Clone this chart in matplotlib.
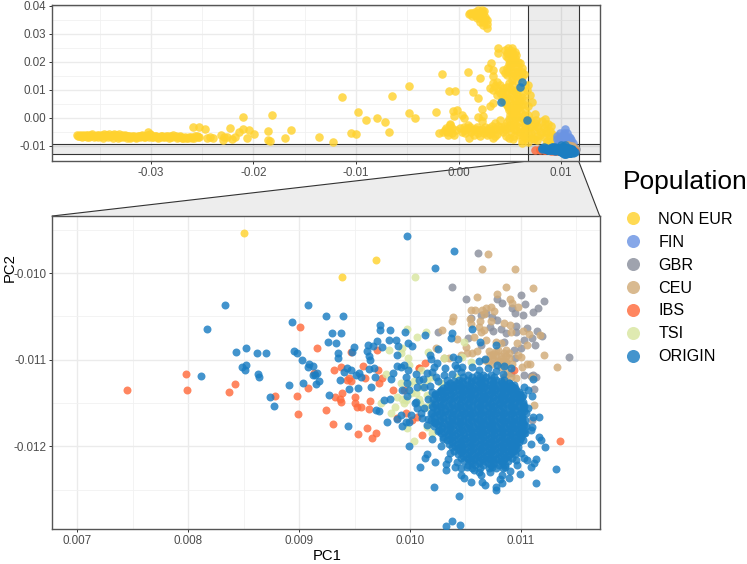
import numpy as np
import matplotlib
matplotlib.use("Agg")
import matplotlib.pyplot as plt
from matplotlib.lines import Line2D
from matplotlib.patches import Polygon

plt.rcParams['font.family'] = ['Liberation Sans', 'DejaVu Sans']

# All scores are given in units of 1e-3 (PC1, PC2)
NON_EUR_BAR = [(-37.2,-6.0),(-37.1,-6.6),(-36.9,-6.2),(-36.7,-6.8),(-36.6,-5.9),(-36.4,-6.4),(-36.2,-6.9),(-36.1,-6.1),(-35.9,-6.5),(-35.7,-5.8),
 (-35.6,-6.9),(-35.4,-6.3),(-35.2,-6.7),(-35.1,-5.9),(-34.9,-6.4),(-34.7,-7.0),(-34.6,-5.7),(-34.4,-6.2),(-34.2,-6.8),(-34.1,-5.6),
 (-33.9,-6.3),(-33.7,-7.1),(-33.6,-5.6),(-33.4,-6.5),(-33.2,-7.1),(-33.1,-5.7),(-32.9,-6.4),(-32.7,-6.9),(-32.5,-6.1),(-32.3,-7.2),
 (-32.1,-6.6),(-31.9,-6.9),(-31.7,-6.5),(-31.5,-7.1),(-31.3,-6.4),(-31.1,-6.9),(-30.9,-6.2),(-30.7,-6.8),(-30.5,-6.4),(-30.3,-5.1),
 (-30.2,-6.9),(-30.0,-6.1),(-29.8,-6.7),(-29.5,-6.4),(-29.3,-7.0),(-29.0,-6.4),(-28.8,-6.8),(-28.5,-6.3),(-28.2,-7.1),(-28.0,-6.5),
 (-27.8,-6.0),(-27.5,-7.1),(-27.2,-6.6),(-27.0,-7.2),(-26.7,-6.7),(-26.4,-7.1),(-26.1,-6.8),(-25.8,-7.0),(-25.5,-6.4),(-25.3,-6.9),
 (-37.0,-6.4),(-36.8,-6.3),(-36.5,-6.6),(-36.3,-6.2),(-36.0,-6.7),(-35.8,-6.2),(-35.5,-6.6),(-35.3,-6.1),(-35.0,-6.6),(-34.8,-6.2),
 (-34.5,-6.5),(-34.3,-6.0),(-34.0,-6.6),(-33.8,-5.9),(-33.5,-6.2),(-33.3,-6.0),(-33.0,-6.7),(-32.8,-6.1),(-32.6,-6.6),(-32.4,-6.5),
 (-32.2,-6.3),(-32.0,-7.0),(-31.8,-6.6),(-31.6,-6.7),(-31.4,-6.9),(-31.2,-6.5),(-31.0,-6.5),(-30.8,-6.6),(-30.6,-6.9),(-30.4,-6.2),
 (-30.1,-5.7),(-29.9,-6.9),(-29.6,-6.3),(-29.4,-6.8),(-29.1,-6.9),(-28.9,-6.5),(-28.6,-6.9),(-28.3,-6.6),(-28.1,-6.9),(-27.9,-6.9),
 (-27.6,-6.6),(-27.4,-6.9),(-27.1,-6.9),(-26.9,-7.0),(-26.6,-7.0),(-26.3,-6.8),(-26.0,-7.1),(-25.7,-6.6),(-25.4,-6.7)]
NON_EUR_SCATTER = [(-25.86,-3.33),(-25.34,-3.22),(-24.72,-4.05),(-22.28,-3.45),(-21.04,0.24),(-18.21,1.07),(-21.04,-4.05),(-21.37,-5.0),
 (-20.39,-4.29),(-19.9,-5.7),(-20.65,-7.02),(-18.54,-4.52),(-18.54,-7.86),(-18.38,-8.2),(-24.55,-7.26),(-23.9,-7.26),(-24.2,-6.9),(-23.16,-6.07),
 (-22.93,-7.86),(-22.12,-7.62),(-21.79,-6.67),(-22.6,-6.67),(-22.9,-6.9),(-16.95,-7.14),(-16.3,-4.17),(-13.6,-6.67),(-12.2,-8.69),(-11.39,7.5),
 (-10.51,-5.24),(-9.99,-5.6),(-9.8,2.02),(-8.98,-0.72),(-7.91,-0.12),(-7.16,-1.43),(-6.74,-4.88),(-6.51,7.73),(-4.85,1.9),(-4.79,11.43),
 (-4.2,0.12),(-1.57,15.71),(-2.18,2.02),(-1.89,-5.24),(-1.53,-5.12),(-1.14,-4.88),(-0.82,-2.5),(-0.97,9.5),(0.97,16.55),(2.08,14.4),
 (-0.33,9.76),(1.46,9.4),(1.94,7.02),(2.27,3.21),(3.08,4.4),(3.41,5.24),(-0.49,2.62),(-0.17,2.86),(-0.43,0.83),(0.32,1.07),(0.55,-0.12),
 (1.94,0.48),(2.37,0.71),(2.27,-0.95),(-0.82,-2.14),(3.9,25.12),(3.9,23.09),(3.15,19.52),(2.92,17.97),(3.34,17.14),(3.34,15.0),
 (8.507,-9.542),(9.695,-9.847),(9.389,-10.05)]
NON_EUR_TOP = [(1.13,37.38),(1.36,37.38),(1.62,37.97),(1.94,38.57),(2.27,38.57),(2.43,37.38),(2.6,36.19),(2.76,35.0),(2.82,33.57),(2.76,32.02),
 (2.43,34.4),(2.11,35.6),(1.78,36.78),(1.36,36.43),(1.78,35.6),(2.11,34.4),(2.37,33.2),(1.94,37.38),(2.27,36.19),(1.62,36.9),(1.95,36.2),(2.55,35.2),
 (1.0,37.0),(1.5,37.0),(2.15,37.9),(2.45,38.2)]
NON_EUR_STREAM = [(4.55,24.3),(4.87,24.88),(5.2,24.88),(5.52,23.69),(4.71,23.09),(5.03,23.09),(5.36,22.5),(4.87,21.3),(5.2,21.3),(5.52,21.3),
 (5.85,20.12),(5.03,20.12),(5.36,19.52),(6.01,19.52),(4.71,17.74),(5.03,18.33),(5.52,18.33),(5.85,18.33),(4.38,17.14),(4.87,16.55),(5.2,16.55),
 (5.52,16.55),(5.85,16.55),(6.17,16.55),(4.71,15.36),(5.2,15.0),(5.85,15.0),(6.17,14.76),(3.08,10.6),(3.41,12.38),(3.73,12.98),(4.06,11.79),
 (3.41,10.0),(3.9,10.0),(4.38,10.6),(4.71,11.19),(5.2,11.79),(6.5,11.79),(6.82,11.79),(6.66,10.0),(3.73,8.2),(4.22,8.2),(4.71,8.2),(5.2,8.81),
 (5.68,8.2),(6.17,7.62),(6.98,8.2),(7.15,5.83),(4.22,6.43),(4.55,5.24),(5.03,5.83),(5.52,6.43),(6.34,6.43),(4.87,4.05),(5.36,3.45),(5.85,3.45),
 (6.5,2.86),(6.82,4.29),(5.2,1.67),(5.68,1.07),(6.34,1.07),(6.82,1.07),(7.47,1.43),(5.52,-0.12),(6.01,-1.31),(6.5,-2.5),(6.99,-0.71),(7.47,-1.9),
 (8.45,-0.36),(8.12,-0.95),(7.8,-3.69),(8.29,-3.69),(8.94,-4.52),(8.61,-5.48),(8.94,-6.9),(8.29,-6.9),(9.43,-8.45),(7.96,-6.07),(7.64,-7.86),
 (7.1,-5.2),(7.4,-4.4),(6.9,-3.6),(6.4,-4.2),(5.9,-3.2),(5.4,-1.9),(4.9,-0.4),(5.1,3.0),(4.6,7.2),(4.2,9.3),(3.6,11.4),(5.6,5.0),(6.1,4.6),
 (6.3,9.4),(5.8,10.5),(5.2,13.4),(5.7,13.1),(4.9,12.6),(5.4,9.8),(7.7,-2.8),(8.0,-5.0),(9.0,-8.2),(9.2,-7.4),(8.6,-8.1),(7.4,-7.6),
 (4.6,22.0),(5.2,23.9),(5.6,22.4),(4.9,19.2),(5.5,19.9),(6.2,17.9),(4.5,16.0),(5.5,15.2),(6.4,15.6),(4.0,9.0),(4.6,9.6),(5.1,10.4),(5.6,9.2),(4.3,7.4),
 (4.9,6.9),(5.4,7.4),(5.9,6.9),(4.7,4.8),(5.3,4.6),(5.9,5.2),(6.3,5.0),(4.9,2.9),(5.6,2.4),(6.0,2.4),(6.2,0.0),(5.8,0.2),(5.6,-2.6),(6.4,-0.6),(6.8,-1.6),
 (5.0,1.2),(6.6,-3.6),(7.2,-2.9),(7.6,-0.6),(8.7,-2.0),(9.0,-3.0),(8.4,-2.3),(9.1,-5.6),(8.5,-4.6),(9.4,-6.8),(9.7,-8.0),(7.7,-6.6)]
NON_EUR_BAND = [(-1.0,-5.9),(-0.6,-5.4),(-0.4,-6.2),(-1.2,-3.6),(-0.6,-3.4),(0.15,-3.7),(0.3,-4.9),(0.65,-5.5),(0.9,-3.7),(0.9,-2.4),(1.2,-5.0),(1.5,-6.2),
 (1.6,-3.9),(1.9,-5.2),(2.1,-6.4),(2.3,-4.0),(2.5,-5.4),(2.8,-6.0),(3.0,-3.6),(3.2,-5.0),(3.41,-7.26),(3.57,-1.9),(3.6,-3.9),(3.8,-5.6),(4.06,-0.71),
 (4.1,-3.2),(4.3,-5.0),(4.6,-6.4),(4.71,-1.31),(4.8,-3.6),(5.1,-5.0),(5.2,0.48),(5.3,-2.6),(5.4,-6.6),(5.6,-4.2),(5.9,-6.2),(6.17,-7.86),(6.4,-5.4),
 (6.82,-8.45),(6.17,-9.0),(6.9,-6.6),(7.2,-7.0),(6.6,-7.2),(1.0,-7.0),(2.9,-4.4),(4.9,-7.2),
 (0.5,-3.2),(0.6,-4.2),(1.1,-3.1),(1.3,-4.2),(1.8,-3.2),(2.0,-4.4),(2.6,-3.2),(2.7,-4.7),(3.3,-3.0),(3.4,-4.4),(3.9,-2.7),(4.0,-4.3),(4.5,-2.7),
 (4.5,-4.1),(5.0,-2.6),(5.4,-3.8),(6.0,-5.0),(6.3,-6.6),(-0.2,-4.4),(-1.3,-4.2),(-0.9,-4.6),(3.1,-5.6),(3.6,-6.4),(5.3,-7.4)]

FIN = [(10.43,-4.05),(9.59,-6.43),(9.91,-5.48),(10.24,-5.24),(10.56,-5.48),(10.73,-6.67),(10.95,-7.86),(11.15,-8.81),(9.91,-7.26),(10.4,-6.9),
 (9.75,-8.45),(10.24,-8.45),(10.73,-8.45),(9.6,-7.6),(10.1,-6.3),(10.5,-7.8),(10.85,-7.2),(10.3,-5.9),(9.9,-8.8),(10.55,-8.8)]

GBR = [(10.610,-9.765),(10.376,-10.158),(10.502,-10.30),(11.002,-10.254),(11.035,-10.358),(11.206,-10.323),(11.158,-10.407),(11.107,-10.446),
 (11.017,-10.488),(10.782,-10.304),(10.83,-10.35),(10.92,-10.407),(10.944,-10.465),(10.547,-10.519),(10.788,-10.542),(10.686,-10.465),
 (10.743,-10.511),(10.643,-10.484),(10.722,-10.619),(10.818,-10.642),(10.752,-10.665),(10.953,-10.611),(11.059,-10.638),(10.953,-10.677),
 (10.863,-10.692),(11.029,-10.769),(11.098,-10.754),(11.146,-10.673),(11.191,-10.723),(11.125,-10.827),(10.252,-10.677),(10.526,-10.754),
 (10.637,-10.83),(10.848,-10.792),(11.004,-10.869),(10.938,-10.888),(10.947,-10.984),(11.432,-10.965),(11.029,-11.18),(11.095,-11.188),
 (10.908,-11.157),(11.134,-11.196),(11.109,-11.173),(11.118,-11.342),(11.103,-11.696)]

CEU = [(10.707,-9.773),(10.653,-9.954),(10.944,-9.95),(10.866,-10.158),(11.113,-10.169),(10.604,-10.273),(10.785,-10.242),(10.902,-10.296),
 (10.923,-10.35),(10.974,-10.388),(10.553,-10.427),(10.583,-10.427),(10.65,-10.427),(10.683,-10.407),(10.728,-10.388),(10.758,-10.438),
 (10.391,-10.511),(10.382,-10.55),(10.292,-10.657),(10.541,-10.534),(10.547,-10.588),(10.631,-10.55),(10.668,-10.473),(10.622,-10.619),
 (10.668,-10.657),(10.848,-10.573),(10.902,-10.6),(10.914,-10.677),(11.02,-10.665),(11.074,-10.704),(11.17,-10.719),(10.427,-10.765),
 (10.577,-10.734),(10.683,-10.773),(10.773,-10.792),(10.818,-10.811),(10.962,-10.811),(11.059,-10.83),(10.502,-10.85),(10.517,-10.919),
 (10.562,-10.919),(10.713,-10.896),(10.794,-10.888),(10.863,-10.888),(10.893,-10.919),(10.773,-10.946),(10.818,-10.957),(10.863,-10.957),
 (10.743,-10.984),(10.794,-11.011),(10.842,-11.011),(10.893,-10.984),(11.0,-10.965),(10.974,-10.946),(11.206,-10.95),(11.326,-11.08),
 (11.059,-11.053),(11.083,-11.05),(11.014,-11.088),(10.743,-11.05),(10.818,-11.08),(10.863,-11.061),(10.878,-11.138),(11.104,-11.196),
 (10.231,-10.869),(10.352,-10.984),(10.307,-10.984),(10.848,-11.196),(10.914,-11.203),(11.118,-11.523),(10.857,-11.196),(10.953,-11.215),
 (10.72,-10.95),(10.85,-10.92),(10.76,-11.0),(10.81,-11.03),(10.7,-11.02),(10.78,-10.9),(10.83,-10.99),(10.75,-10.93),(10.87,-11.02),(10.92,-11.05),
 (10.68,-11.0),(10.64,-10.68),(10.73,-10.55),(10.6,-10.9),(10.46,-10.95)]

IBS = [(7.451,-11.35),(7.983,-11.162),(7.986,-11.35),(8.368,-11.377),(8.426,-11.285),(8.786,-11.423),(8.979,-11.423),(8.991,-11.631),(9.081,-11.323),
 (9.012,-10.627),(9.165,-10.865),(9.132,-11.15),(9.316,-11.123),(9.244,-11.577),(9.31,-11.742),(9.467,-10.915),(9.704,-10.888),(9.575,-11.069),
 (9.382,-11.088),(9.448,-11.208),(9.464,-11.246),(9.433,-11.234),(9.59,-11.215),(9.71,-11.119),(9.749,-11.215),(9.719,-11.265),(9.388,-11.38),
 (9.322,-11.434),(9.373,-11.457),(9.379,-11.484),(9.5,-11.427),(9.503,-11.496),(9.518,-11.542),(9.554,-11.542),(9.638,-11.473),(9.629,-11.573),
 (9.533,-11.857),(9.611,-11.788),(9.692,-11.842),(9.656,-11.903),(9.846,-11.35),(9.96,-11.619),(9.885,-11.677),(10.02,-11.696),(10.065,-11.657),
 (9.945,-11.35),(10.08,-11.1),(10.105,-11.865),(11.35,-11.938),(11.022,-11.55),(10.938,-11.119),(10.135,-11.042),(10.08,-11.092)]

TSI = [(10.048,-10.05),(9.969,-10.639),(10.062,-10.735),(10.147,-10.685),(9.81,-10.888),(9.93,-10.869),(9.915,-10.927),(9.984,-10.985),(10.165,-10.908),
 (10.306,-10.985),(10.547,-11.031),(10.487,-10.8),(10.472,-10.965),(9.78,-11.165),(9.915,-11.273),(9.885,-11.427),(9.74,-11.504),(9.825,-11.611),
 (9.861,-11.542),(9.945,-11.504),(10.005,-11.388),(10.156,-11.407),(10.186,-11.504),(9.975,-11.792),(10.039,-11.942),(9.99,-11.061),(10.096,-11.119),
 (10.276,-11.273),(10.156,-11.234),(10.427,-11.196),(10.05,-11.388),(10.156,-11.773),(10.2,-11.85),(10.11,-11.31),(9.93,-11.45),(10.09,-11.5),(10.2,-11.2),
 (9.99,-11.28),(10.04,-11.24),(10.08,-11.45),(10.14,-11.55),(9.96,-11.46)]

ORIGIN_FAR = [(4.1,5.8),(6.2,12.8),(6.0,11.2),(6.7,-0.6)]
ORIGIN_WEST = [(8.332,-10.373),(8.170,-10.646),(9.078,-10.362),(8.940,-10.569),(8.429,-10.908),(8.519,-10.862),(8.618,-10.927),(8.702,-10.923),
 (8.958,-10.9),(8.979,-10.927),(9.024,-11.004),(9.09,-11.05),(9.078,-11.08),(9.123,-11.069),(8.489,-11.085),(8.522,-11.062),(8.51,-11.123),
 (8.116,-11.185),(8.633,-11.162),(8.636,-11.196),(8.91,-11.296),(9.036,-11.265),(9.123,-11.173),(9.141,-11.18),(9.159,-11.158),(9.153,-11.285),
 (9.177,-11.25),(8.738,-11.435),(8.771,-11.535)]
ORIGIN_SCATTER = [(9.975,-9.574),(10.40,-9.747),(10.225,-9.935),(9.238,-10.496),(9.395,-10.496),(9.732,-10.596),(9.729,-10.662),(9.816,-10.654),
 (9.301,-10.692),(9.374,-10.689),(9.262,-10.8),(9.334,-10.812),(9.617,-10.835),(9.669,-10.846),(9.494,-10.85),(9.473,-10.911),(9.353,-10.927),
 (9.353,-10.985),(9.611,-10.896),(9.626,-10.958),(9.641,-11.004),(9.747,-10.85),(9.7,-10.781),(9.807,-10.773),(9.87,-10.769),(9.954,-10.677),
 (10.135,-10.719),(9.981,-10.808),(10.02,-10.838),(9.888,-10.846),(9.882,-10.95),(10.177,-10.946),(10.192,-10.996),(10.255,-10.873),(10.366,-10.746),
 (10.375,-10.696),(10.562,-10.639),(10.628,-10.792),(10.779,-10.835),(10.39,-10.973),(10.436,-10.988),(10.625,-11.015),(10.673,-10.996),
 (10.785,-11.061),(10.848,-11.069),(10.914,-11.092),(10.406,-11.065),(10.466,-11.085),(10.427,-11.1),(9.268,-11.411),(9.368,-11.234),(9.404,-11.138),
 (9.434,-11.1),(9.47,-11.119),(9.509,-11.177),(9.539,-11.158),(9.56,-11.196),(9.452,-11.342),(9.527,-11.331),(9.647,-11.319),(9.629,-11.111),
 (9.68,-11.196),(9.674,-11.1),(9.831,-11.227),(9.846,-11.158),(9.879,-11.073),(9.915,-11.088),(9.945,-11.061),(9.981,-11.119),(9.963,-11.196),
 (9.969,-11.273),(10.05,-11.169),(10.081,-11.234),(10.15,-11.15),(10.216,-11.081),(10.246,-11.042),(10.231,-11.196),(10.336,-11.234),(10.306,-11.177),
 (10.065,-11.311),(10.126,-11.311),(9.99,-11.35),(9.93,-11.35),(9.975,-11.419),(10.05,-11.484),(10.2,-11.369),(10.225,-11.396),(9.765,-11.465),
 (9.819,-11.454),(9.689,-11.58),(9.723,-11.596),(9.789,-11.715),(9.44,-11.765),(9.882,-11.684),(9.915,-11.638),(9.927,-11.765),(9.96,-11.719),
 (9.993,-11.719),(10.005,-11.638),(10.06,-11.561),(10.041,-11.496),(10.111,-11.677),(10.156,-11.754),(9.99,-11.996),(10.087,-12.238),(10.132,-12.138),
 (10.156,-12.092),(10.228,-12.184),(10.321,-12.272),(10.327,-12.207),(10.357,-12.08),(10.216,-12.469),(10.445,-12.576),(10.321,-12.915),(10.375,-12.861),
 (10.454,-12.911),(10.406,-12.242),(10.457,-12.253),(10.517,-12.234),(10.457,-12.33),(10.487,-12.369),(10.553,-12.415),(10.637,-12.33),(10.652,-12.407),
 (10.673,-12.446),(10.779,-12.473),(10.779,-12.503),(10.833,-12.426),(10.812,-12.38),(10.893,-12.369),(10.989,-12.319),(11.134,-12.423),(11.314,-12.257),
 (11.088,-12.242),(11.118,-12.196),(11.14,-12.146),(11.058,-12.157),(10.968,-12.215),(10.902,-12.28),(10.833,-12.33),(10.742,-12.234),(10.577,-12.273),
 (11.218,-12.011),(11.185,-11.927),(11.164,-11.888),(11.088,-11.973),(11.103,-11.773),(11.088,-11.811),(11.164,-11.658),(11.112,-11.658),(11.064,-11.561),
 (11.103,-11.415),(11.064,-11.35),(11.028,-11.311),(11.106,-11.227),(10.983,-11.427),(10.938,-11.292),(10.893,-11.273),(11.013,-11.696),(11.028,-11.85),
 (10.998,-12.08),(11.028,-12.138),(10.16,-11.45),(10.13,-11.56),(10.19,-11.62),(10.22,-11.72),(10.25,-11.82),(10.3,-11.92),(10.28,-11.36),
 (10.18,-11.3),(10.25,-11.25),(10.12,-11.22),(10.2,-11.14),(10.32,-11.1),(10.38,-11.16),(10.46,-11.14),(10.56,-11.08),(10.62,-11.12),(10.7,-11.1),
 (10.78,-11.13),(10.84,-11.16),(10.1,-11.62),(10.16,-11.68),(10.2,-11.92),(10.28,-12.0),(10.34,-12.14),(10.42,-12.18),(10.62,-12.3),(10.72,-12.3),
 (10.86,-12.24),(10.96,-12.16)]

CORE_PC2 = [-11.18,-11.23,-11.27,-11.31,-11.35,-11.39,-11.43,-11.47,-11.51,-11.55,-11.59,-11.63,-11.67,-11.71,-11.75,-11.79,
 -11.83,-11.87,-11.91,-11.95,-11.99,-12.03,-12.07,-12.11,-12.15,-12.19]
CORE_PC1 = [
 [10.52,10.60,10.66,10.73],
 [10.44,10.51,10.59,10.64,10.72,10.78,10.85],
 [10.36,10.42,10.48,10.55,10.63,10.68,10.75,10.83,10.89],
 [10.33,10.40,10.46,10.53,10.61,10.67,10.74,10.80,10.87,10.93],
 [10.28,10.35,10.43,10.50,10.56,10.62,10.70,10.77,10.84,10.90,10.96],
 [10.30,10.37,10.45,10.52,10.59,10.66,10.72,10.79,10.86,10.93,10.99],
 [10.25,10.32,10.40,10.47,10.54,10.61,10.68,10.75,10.82,10.88,10.95,11.01],
 [10.27,10.35,10.42,10.49,10.57,10.64,10.70,10.78,10.85,10.91,10.98],
 [10.23,10.30,10.38,10.45,10.52,10.60,10.67,10.73,10.80,10.87,10.94,11.02],
 [10.21,10.28,10.36,10.43,10.50,10.56,10.63,10.71,10.77,10.84,10.92,10.99],
 [10.24,10.32,10.39,10.47,10.54,10.61,10.68,10.75,10.82,10.89,10.96,11.03],
 [10.26,10.34,10.41,10.49,10.55,10.63,10.70,10.76,10.84,10.91,10.98],
 [10.23,10.30,10.38,10.45,10.52,10.59,10.66,10.73,10.80,10.87,10.94,11.01],
 [10.27,10.35,10.42,10.48,10.56,10.64,10.71,10.77,10.85,10.92,10.99],
 [10.25,10.33,10.39,10.46,10.53,10.61,10.68,10.74,10.82,10.89,10.96,11.03],
 [10.29,10.36,10.44,10.51,10.58,10.65,10.72,10.79,10.86,10.93,11.00],
 [10.31,10.38,10.45,10.53,10.60,10.66,10.74,10.81,10.88,10.95,11.01],
 [10.34,10.41,10.49,10.56,10.62,10.69,10.76,10.83,10.90,10.97],
 [10.36,10.43,10.50,10.57,10.64,10.71,10.78,10.85,10.92,10.99],
 [10.38,10.46,10.53,10.59,10.67,10.73,10.80,10.87,10.93,10.98],
 [10.41,10.47,10.55,10.62,10.68,10.75,10.82,10.88,10.95],
 [10.43,10.50,10.57,10.64,10.71,10.77,10.84,10.91,10.96],
 [10.46,10.53,10.60,10.66,10.73,10.80,10.86,10.92],
 [10.48,10.55,10.61,10.69,10.75,10.82,10.88],
 [10.52,10.58,10.65,10.71,10.78,10.85],
 [10.56,10.62,10.70,10.76,10.83],
]
CORE2_PC2 = [-11.2,-11.25,-11.29,-11.33,-11.37,-11.41,-11.45,-11.49,-11.53,-11.57,-11.61,-11.65,-11.69,-11.73,-11.77,-11.81,
 -11.85,-11.89,-11.93,-11.97,-12.01,-12.05,-12.09,-12.13,-12.17,-12.21,-12.25]
CORE2_PC1 = [
 [10.48,10.56,10.63,10.69,10.76],
 [10.40,10.47,10.55,10.61,10.68,10.75,10.82],
 [10.33,10.39,10.45,10.52,10.59,10.65,10.72,10.79,10.86,10.91],
 [10.30,10.37,10.43,10.50,10.57,10.64,10.71,10.77,10.84,10.90,10.95],
 [10.26,10.32,10.39,10.47,10.53,10.59,10.66,10.74,10.81,10.87,10.93,10.98],
 [10.23,10.33,10.41,10.48,10.55,10.63,10.69,10.76,10.83,10.90,10.97,11.02],
 [10.21,10.29,10.36,10.44,10.51,10.58,10.65,10.71,10.79,10.85,10.92,10.99],
 [10.23,10.31,10.38,10.46,10.53,10.60,10.67,10.74,10.81,10.88,10.95,11.02],
 [10.20,10.27,10.34,10.42,10.49,10.56,10.63,10.70,10.76,10.83,10.91,10.97,11.03],
 [10.24,10.32,10.40,10.46,10.53,10.60,10.66,10.74,10.80,10.88,10.95,11.02],
 [10.20,10.28,10.36,10.43,10.50,10.57,10.64,10.71,10.78,10.85,10.92,11.0,11.05],
 [10.22,10.30,10.38,10.45,10.52,10.59,10.66,10.73,10.80,10.87,10.94,11.01],
 [10.19,10.27,10.34,10.41,10.48,10.55,10.62,10.69,10.76,10.83,10.90,10.97,11.04],
 [10.23,10.31,10.38,10.45,10.52,10.60,10.67,10.74,10.81,10.88,10.95,11.02],
 [10.22,10.29,10.36,10.43,10.50,10.57,10.64,10.71,10.78,10.85,10.92,10.99,11.05],
 [10.26,10.33,10.40,10.47,10.55,10.62,10.69,10.76,10.83,10.90,10.97,11.03],
 [10.28,10.35,10.42,10.49,10.56,10.63,10.70,10.77,10.84,10.91,10.98,11.04],
 [10.30,10.38,10.45,10.52,10.59,10.66,10.73,10.80,10.87,10.94,11.0],
 [10.33,10.40,10.47,10.54,10.61,10.68,10.75,10.82,10.89,10.96,11.02],
 [10.35,10.42,10.49,10.56,10.63,10.70,10.77,10.84,10.90,10.96],
 [10.38,10.44,10.51,10.58,10.65,10.72,10.79,10.86,10.92,10.97],
 [10.40,10.47,10.54,10.61,10.68,10.74,10.81,10.88,10.94],
 [10.43,10.50,10.56,10.63,10.70,10.77,10.84,10.90,10.95],
 [10.46,10.52,10.59,10.66,10.72,10.79,10.86,10.92],
 [10.49,10.55,10.62,10.68,10.75,10.82,10.88],
 [10.52,10.59,10.66,10.73,10.80,10.86],
 [10.56,10.63,10.71,10.78,10.84],
]

POPULATIONS = ["NON EUR", "FIN", "GBR", "CEU", "IBS", "TSI", "ORIGIN"]
COLORS = ["#FFD22E", "#6B94E3", "#8A8F9C", "#D1AB78", "#FF6B3D", "#D8E6A0", "#1A7DC2"]

TOP_XTICKS = [-0.03, -0.02, -0.01, 0.00, 0.01]
TOP_XLABELS = ["-0.03", "-0.02", "-0.01", "0.00", "0.01"]
TOP_YTICKS = [-0.01, 0.00, 0.01, 0.02, 0.03, 0.04]
TOP_YLABELS = ["-0.01", "0.00", "0.01", "0.02", "0.03", "0.04"]
ZOOM_XTICKS = [0.007, 0.008, 0.009, 0.010, 0.011]
ZOOM_XLABELS = ["0.007", "0.008", "0.009", "0.010", "0.011"]
ZOOM_YTICKS = [-0.010, -0.011, -0.012]
ZOOM_YLABELS = ["-0.010", "-0.011", "-0.012"]


def arr(*groups):
    a = np.array([p for g in groups for p in g], dtype=float) * 1e-3
    return a[:, 0], a[:, 1]


core = [(x, y) for y, xs in zip(CORE_PC2, CORE_PC1) for x in xs]
core2 = [(x, y) for y, xs in zip(CORE2_PC2, CORE2_PC1) for x in xs]
series = [arr(NON_EUR_BAR, NON_EUR_SCATTER, NON_EUR_TOP, NON_EUR_STREAM, NON_EUR_BAND),
          arr(FIN), arr(GBR), arr(CEU), arr(IBS), arr(TSI),
          arr(ORIGIN_FAR, ORIGIN_WEST, ORIGIN_SCATTER, core, core2)]

W, H = 747, 564
fig = plt.figure(figsize=(W / 100, H / 100), dpi=100)


def box(l, t, r, b):
    return [l / W, 1 - b / H, (r - l) / W, (b - t) / H]


ax_top = fig.add_axes(box(52, 4.7, 600, 161))
ax_zoom = fig.add_axes(box(52.3, 216, 599.7, 529))

TOP_XLIM = (-0.03965, 0.0138)
TOP_YLIM = (-0.01536, 0.04046)
ZOOM_XLIM = (0.006774, 0.011711)
ZOOM_YLIM = (-0.012954, -0.00934)

for ax, xl, yl, xt, xtl, yt, ytl, xm, ym in [
    (ax_top, TOP_XLIM, TOP_YLIM, TOP_XTICKS, TOP_XLABELS, TOP_YTICKS, TOP_YLABELS,
     [-0.035, -0.025, -0.015, -0.005, 0.005], [-0.005, 0.005, 0.015, 0.025, 0.035]),
    (ax_zoom, ZOOM_XLIM, ZOOM_YLIM, ZOOM_XTICKS, ZOOM_XLABELS, ZOOM_YTICKS, ZOOM_YLABELS,
     [0.0075, 0.0085, 0.0095, 0.0105, 0.0115], [-0.0095, -0.0105, -0.0115, -0.0125]),
]:
    ax.set_xlim(xl)
    ax.set_ylim(yl)
    ax.set_xticks(xt, xtl)
    ax.set_yticks(yt, ytl)
    ax.set_xticks(xm, minor=True)
    ax.set_yticks(ym, minor=True)
    ax.grid(True, which="major", color="#EBEBEB", lw=1.0, zorder=0)
    ax.grid(True, which="minor", color="#F1F1F1", lw=0.6, zorder=0)
    ax.set_axisbelow(True)
    ax.tick_params(which="major", length=2.2, width=0.7, color="#333333",
                   labelcolor="#4D4D4D", labelsize=8.4, pad=2)
    ax.tick_params(which="minor", length=0)
    for s in ax.spines.values():
        s.set_color("#555555")
        s.set_linewidth(1.0)

ax_top.axvspan(*ZOOM_XLIM, facecolor="black", alpha=0.075, lw=0, zorder=1)
ax_top.axhspan(*ZOOM_YLIM, facecolor="black", alpha=0.075, lw=0, zorder=1)
for v in ZOOM_XLIM:
    ax_top.axvline(v, color="#333333", lw=0.8, zorder=1.5)
for v in ZOOM_YLIM:
    ax_top.axhline(v, color="#333333", lw=0.8, zorder=1.5)

for (x, y), c in zip(series, COLORS):
    ax_top.scatter(x, y, s=38, color=c, alpha=0.82, lw=0, zorder=3)
    ax_zoom.scatter(x, y, s=33, color=c, alpha=0.82, lw=0, zorder=3)

# Trapezoid linking the zoom window to the lower panel
inv = fig.transFigure.inverted()
p0 = inv.transform(ax_zoom.transAxes.transform((0, 1)))
p3 = inv.transform(ax_zoom.transAxes.transform((1, 1)))
b_y = ax_top.transAxes.transform((0, 0))[1]
p1 = inv.transform((ax_top.transData.transform((ZOOM_XLIM[0], 0))[0], b_y))
p2 = inv.transform((ax_top.transData.transform((ZOOM_XLIM[1], 0))[0], b_y))
fig.add_artist(Polygon([p0, p1, p2, p3], closed=True, transform=fig.transFigure,
                       facecolor="#EDEDED", edgecolor="none", zorder=-1))
for a, b in [(p0, p1), (p3, p2)]:
    fig.add_artist(Line2D([a[0], b[0]], [a[1], b[1]], transform=fig.transFigure,
                          color="#333333", lw=0.8, zorder=-0.5))

fig.text(327 / W, 1 - 556 / H, "PC1", ha="center", va="center", fontsize=10.7, color="black")
fig.text(9.5 / W, 1 - 268 / H, "PC2", ha="center", va="center", rotation=90, fontsize=10.7, color="black")

handles = [Line2D([], [], ls="", marker="o", ms=9.4, mew=0, color=c, alpha=0.82) for c in COLORS]
leg = fig.legend(handles, POPULATIONS, title="Population", loc="upper left",
                 bbox_to_anchor=(623 / W, 1 - 170 / H), bbox_transform=fig.transFigure,
                 frameon=False, fontsize=11.6, title_fontsize=19, alignment="left",
                 labelspacing=0.49, handlelength=1.25, handletextpad=0.95,
                 borderpad=0, borderaxespad=0)
leg._legend_box.sep = leg._legend_box.sep + 7.2
fig.savefig("out.png", dpi=100)
